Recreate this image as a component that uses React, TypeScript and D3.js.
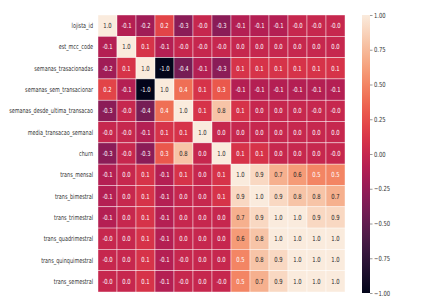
import { useRef, useEffect } from "react";
import * as d3 from "d3";

const labels = [
  "lojista_id",
  "est_mcc_code",
  "semanas_trasacionadas",
  "semanas_sem_transacionar",
  "semanas_desde_ultima_transacao",
  "media_transacao_semanal",
  "churn",
  "trans_mensal",
  "trans_bimestral",
  "trans_trimestral",
  "trans_quadrimestral",
  "trans_quinquimestral",
  "trans_semestral",
];

const corr = [
  [1.0, -0.1, -0.2, 0.2, -0.3, -0.0, -0.3, -0.1, -0.1, -0.1, -0.0, -0.0, -0.0],
  [-0.1, 1.0, 0.1, -0.1, -0.0, -0.0, -0.0, 0.0, 0.0, 0.0, 0.0, 0.0, 0.0],
  [-0.2, 0.1, 1.0, -1.0, -0.4, -0.1, -0.3, 0.1, 0.1, 0.1, 0.1, 0.1, 0.1],
  [0.2, -0.1, -1.0, 1.0, 0.4, 0.1, 0.3, -0.1, -0.1, -0.1, -0.1, -0.1, -0.1],
  [-0.3, -0.0, -0.4, 0.4, 1.0, 0.1, 0.8, 0.1, 0.0, 0.0, 0.0, -0.0, -0.0],
  [-0.0, -0.0, -0.1, 0.1, 0.1, 1.0, 0.0, 0.0, 0.0, 0.0, 0.0, 0.0, 0.0],
  [-0.3, -0.0, -0.3, 0.3, 0.8, 0.0, 1.0, 0.1, 0.1, 0.0, 0.0, 0.0, -0.0],
  [-0.1, 0.0, 0.1, -0.1, 0.1, 0.0, 0.1, 1.0, 0.9, 0.7, 0.6, 0.5, 0.5],
  [-0.1, 0.0, 0.1, -0.1, 0.0, 0.0, 0.1, 0.9, 1.0, 0.9, 0.8, 0.8, 0.7],
  [-0.1, 0.0, 0.1, -0.1, 0.0, 0.0, 0.0, 0.7, 0.9, 1.0, 1.0, 0.9, 0.9],
  [-0.0, 0.0, 0.1, -0.1, 0.0, 0.0, 0.0, 0.6, 0.8, 1.0, 1.0, 1.0, 1.0],
  [-0.0, 0.0, 0.1, -0.1, -0.0, 0.0, 0.0, 0.5, 0.8, 0.9, 1.0, 1.0, 1.0],
  [-0.0, 0.0, 0.1, -0.1, -0.0, 0.0, -0.0, 0.5, 0.7, 0.9, 1.0, 1.0, 1.0],
];

const barTicks = [1.0, 0.75, 0.5, 0.25, 0.0, -0.25, -0.5, -0.75, -1.0];

// approximation of seaborn "rocket"
const rocket = d3.interpolateRgbBasis([
  "#03051a",
  "#35193e",
  "#701f57",
  "#ad1759",
  "#e13342",
  "#f37651",
  "#f6b48f",
  "#faebdd",
]);

const W = 424;
const H = 298;
const left = 98;
const right = 345;
const top = 15;
const bottom = 292;

function Heatmap() {
  const svgRef = useRef<SVGSVGElement>(null);

  useEffect(() => {
    const svg = d3.select(svgRef.current);
    svg.selectAll("*").remove();

    const x = d3.scaleBand<number>().domain(d3.range(labels.length)).range([left, right]);
    const y = d3.scaleBand<number>().domain(d3.range(labels.length)).range([top, bottom]);
    const color = d3.scaleSequential(rocket).domain([-1, 1]);

    const cells = corr.flatMap((row, i) =>
      row.map((v, j) => ({ i, j, v, negZero: Object.is(v, -0) }))
    );

    const g = svg.append("g");
    g.selectAll("rect")
      .data(cells)
      .join("rect")
      .attr("x", (d) => x(d.j)!)
      .attr("y", (d) => y(d.i)!)
      .attr("width", x.bandwidth())
      .attr("height", y.bandwidth())
      .attr("fill", (d) => color(d.v))
      .attr("stroke", "#ffffff")
      .attr("stroke-opacity", 0.7)
      .attr("stroke-width", 0.6);

    g.selectAll("g.val")
      .data(cells)
      .join("g")
      .attr("class", "val")
      .attr(
        "transform",
        (d) =>
          `translate(${x(d.j)! + x.bandwidth() / 2},${y(d.i)! + y.bandwidth() / 2}) scale(0.75,1)`
      )
      .append("text")
      .attr("text-anchor", "middle")
      .attr("dy", "0.35em")
      .attr("font-size", 7)
      .attr("fill", (d) => {
        const c = d3.rgb(color(d.v));
        const lum = 0.2126 * (c.r / 255) ** 2.2 + 0.7152 * (c.g / 255) ** 2.2 + 0.0722 * (c.b / 255) ** 2.2;
        return lum > 0.408 ? "#262626" : "#ffffff";
      })
      .text((d) => (d.negZero ? "-0.0" : d.v.toFixed(1)));

    // row labels
    svg
      .append("g")
      .selectAll("g")
      .data(labels)
      .join("g")
      .attr("transform", (_, i) => `translate(${left - 5},${y(i)! + y.bandwidth() / 2}) scale(0.7,1)`)
      .append("text")
      .attr("text-anchor", "end")
      .attr("dy", "0.35em")
      .attr("font-size", 7)
      .attr("fill", "#333")
      .text((d) => d);

    // colorbar
    const cbX = 362;
    const cbW = 8;
    const cy = d3.scaleLinear().domain([-1, 1]).range([bottom + 1, top]);
    const grad = svg
      .append("defs")
      .append("linearGradient")
      .attr("id", "cbar")
      .attr("x1", 0)
      .attr("y1", 1)
      .attr("x2", 0)
      .attr("y2", 0);
    d3.range(0, 1.001, 0.05).forEach((t) => {
      grad.append("stop").attr("offset", t).attr("stop-color", rocket(t));
    });
    svg
      .append("rect")
      .attr("x", cbX)
      .attr("y", top)
      .attr("width", cbW)
      .attr("height", bottom + 1 - top)
      .attr("fill", "url(#cbar)");

    const axis = d3
      .axisRight(cy)
      .tickValues(barTicks)
      .tickSize(2.5)
      .tickFormat((d) => d3.format(".2f")(d as number));
    const ag = svg.append("g").attr("transform", `translate(${cbX + cbW},0)`).call(axis);
    ag.select(".domain").remove();
    ag.selectAll("line").attr("stroke", "#555").attr("stroke-width", 0.6);
    ag.selectAll("text")
      .attr("font-size", 7)
      .attr("font-family", "DejaVu Sans")
      .attr("fill", "#333")
      .attr("transform", "scale(0.75,1)")
      .attr("x", 4 / 0.75);
  }, []);

  return (
    <svg
      ref={svgRef}
      width={W}
      height={H}
      style={{
        position: "fixed",
        left: 0,
        top: 0,
        display: "block",
        fontFamily: "DejaVu Sans",
        background: "#ffffff",
      }}
    />
  );
}

export default function App() {
  return <Heatmap />;
}
